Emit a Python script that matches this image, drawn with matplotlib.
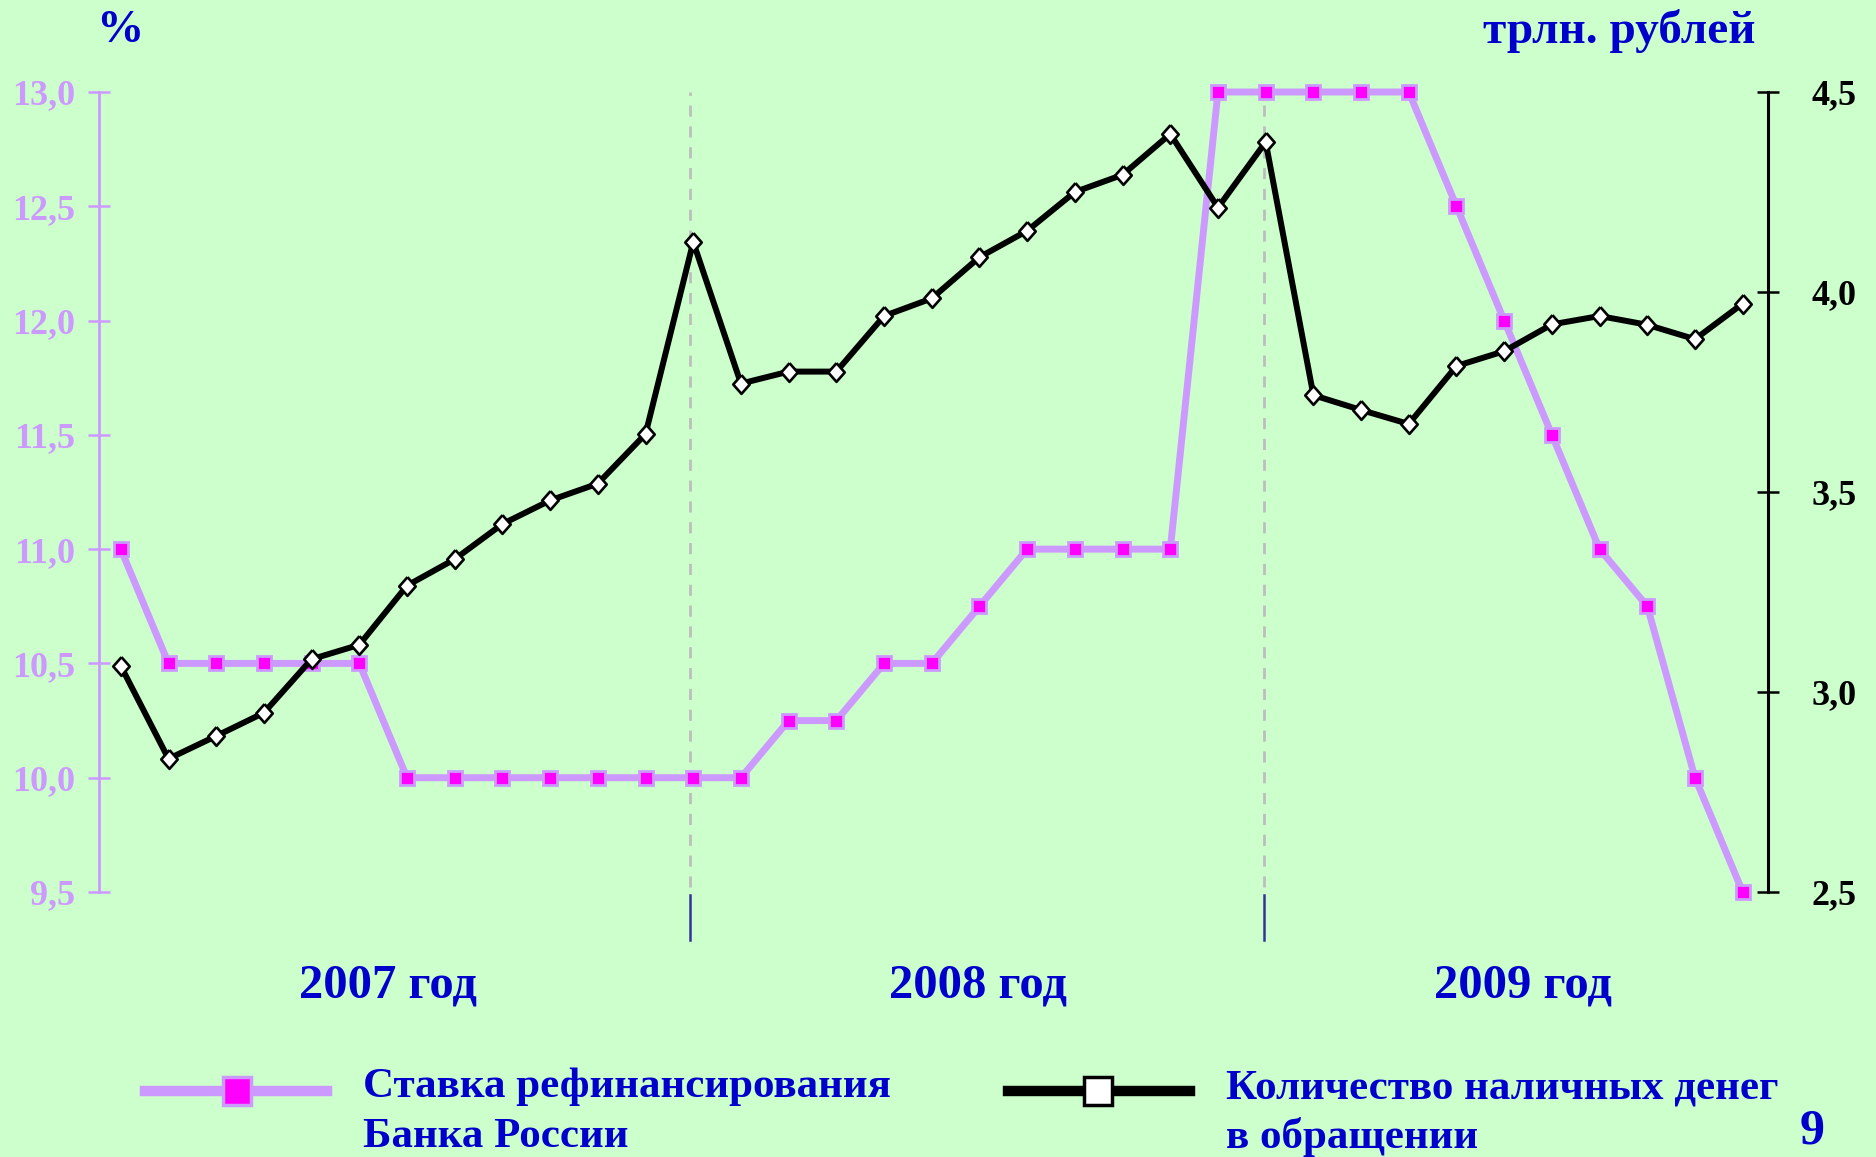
import numpy as np
import matplotlib.pyplot as plt
import matplotlib.transforms as mtransforms
from matplotlib.lines import Line2D

plt.rcParams['font.family'] = ['Liberation Serif', 'DejaVu Serif']
plt.rcParams['font.weight'] = 'bold'

# monthly values, Jan 2007 .. Nov 2009
rate = [11.0, 10.5, 10.5, 10.5, 10.5, 10.5,
        10.0, 10.0, 10.0, 10.0, 10.0, 10.0,
        10.0, 10.0, 10.25, 10.25, 10.5, 10.5, 10.75, 11.0, 11.0, 11.0, 11.0, 13.0,
        13.0, 13.0, 13.0, 13.0, 12.5, 12.0, 11.5, 11.0, 10.75, 10.0, 9.5]
cash = [3.065, 2.833, 2.890, 2.948, 3.082, 3.118,
        3.266, 3.332, 3.420, 3.479, 3.521, 3.645,
        4.125, 3.771, 3.801, 3.801, 3.940, 3.984, 4.087, 4.153, 4.250, 4.293, 4.395, 4.211,
        4.375, 3.742, 3.705, 3.670, 3.815, 3.852, 3.919, 3.940, 3.918, 3.882, 3.971]

left_ticks = [9.5, 10.0, 10.5, 11.0, 11.5, 12.0, 12.5, 13.0]
left_labels = ['9,5', '10,0', '10,5', '11,0', '11,5', '12,0', '12,5', '13,0']
right_ticks = [2.5, 3.0, 3.5, 4.0, 4.5]
right_labels = ['2,5', '3,0', '3,5', '4,0', '4,5']

year_labels = ['2007 год', '2008 год', '2009 год']
year_label_x = [5.6, 17.97, 29.4]
year_borders = [11.94, 23.96]

rate_name = ['Ставка рефинансирования', 'Банка России']
cash_name = ['Количество наличных денег', 'в обращении']

bg = '#CCFFCC'
lav = '#CC99FF'
mag = '#FF00FF'
blue = '#0000CC'

W, H = 1876, 1157
fig = plt.figure(figsize=(W / 100, H / 100), dpi=100, facecolor=bg)
ax = fig.add_axes([99 / W, 1 - 892 / H, (1768 - 99) / W, (892 - 92) / H])
ax.set_facecolor(bg)
ax2 = ax.twinx()

x = np.arange(len(rate))

# year separators
for d in year_borders:
    ax.plot([d, d], [9.52, 13.0], color='#BDBDBD', lw=2, ls=(0, (4, 3.5)), zorder=1)
    ax.plot([d, d], [9.487, 9.29], color='#333399', lw=1.8, clip_on=False)

ax.plot(x, rate, color=lav, lw=5, marker='s', ms=9.5, mfc=mag, mec=lav, mew=2,
        clip_on=False, zorder=3)

diamond = [(0, 1), (0.88, 0), (0, -1), (-0.88, 0), (0, 1)]
ax2.plot(x, cash, color='black', lw=4.3, marker=diamond, ms=13.5, mfc='white',
         mec='black', mew=1.9, clip_on=False, zorder=3)

ax.set_xlim(-0.457, 34.53)
ax.set_ylim(9.5, 13.0)
ax2.set_ylim(2.5, 4.5)
ax.set_xticks([])

for s in ['top', 'right', 'bottom']:
    ax.spines[s].set_visible(False)
ax.spines['left'].set_color(lav)
ax.spines['left'].set_linewidth(2)
for s in ['top', 'left', 'bottom']:
    ax2.spines[s].set_visible(False)
ax2.spines['right'].set_linewidth(2.2)

ax.set_yticks(left_ticks)
ax.set_yticklabels(left_labels, fontsize=26, fontweight='bold')
ax.tick_params(axis='y', direction='inout', length=16, width=1.8, color=lav,
               labelcolor=lav, pad=9)
ax2.set_yticks(right_ticks)
ax2.set_yticklabels(right_labels, fontsize=26, fontweight='bold')
ax2.tick_params(axis='y', direction='inout', length=16, width=1.8, color='black', pad=23)

# axis titles
fig.text(120 / W, 1 - 42 / H, '%', color=blue, fontsize=34, fontweight='bold',
         ha='center', va='baseline')
fig.text(1619 / W, 1 - 43 / H, 'трлн. рублей', color=blue, fontsize=34,
         fontweight='bold', ha='center', va='baseline')

tr = mtransforms.blended_transform_factory(ax.transData, fig.transFigure)
for xp, lab in zip(year_label_x, year_labels):
    ax.text(xp, 1 - 997 / H, lab, transform=tr, color=blue, fontsize=35,
            fontweight='bold', ha='center', va='baseline')

# legend
ly = 1 - 1091 / H
fig.add_artist(Line2D([145 / W, 327 / W], [ly, ly], transform=fig.transFigure,
                      color=lav, lw=7.5))
fig.add_artist(Line2D([237 / W], [ly], transform=fig.transFigure, marker='s', ms=20,
                      mfc=mag, mec=lav, mew=2.5))
fig.add_artist(Line2D([1008 / W, 1190 / W], [ly, ly], transform=fig.transFigure,
                      color='black', lw=7.5))
fig.add_artist(Line2D([1098 / W], [ly], transform=fig.transFigure, marker='s', ms=20,
                      mfc='white', mec='black', mew=2.5))

for i, line in enumerate(rate_name):
    fig.text(363 / W, 1 - (1097 + 50 * i) / H, line, color=blue, fontsize=31,
             fontweight='bold', ha='left', va='baseline')
for i, line in enumerate(cash_name):
    fig.text(1226 / W, 1 - (1098 + 50 * i) / H, line, color=blue, fontsize=31,
             fontweight='bold', ha='left', va='baseline')

fig.text(1812 / W, 1 - 1144 / H, '9', color=blue, fontsize=36, fontweight='bold',
         ha='center', va='baseline')

fig.savefig('out.png', dpi=100, facecolor=bg)
